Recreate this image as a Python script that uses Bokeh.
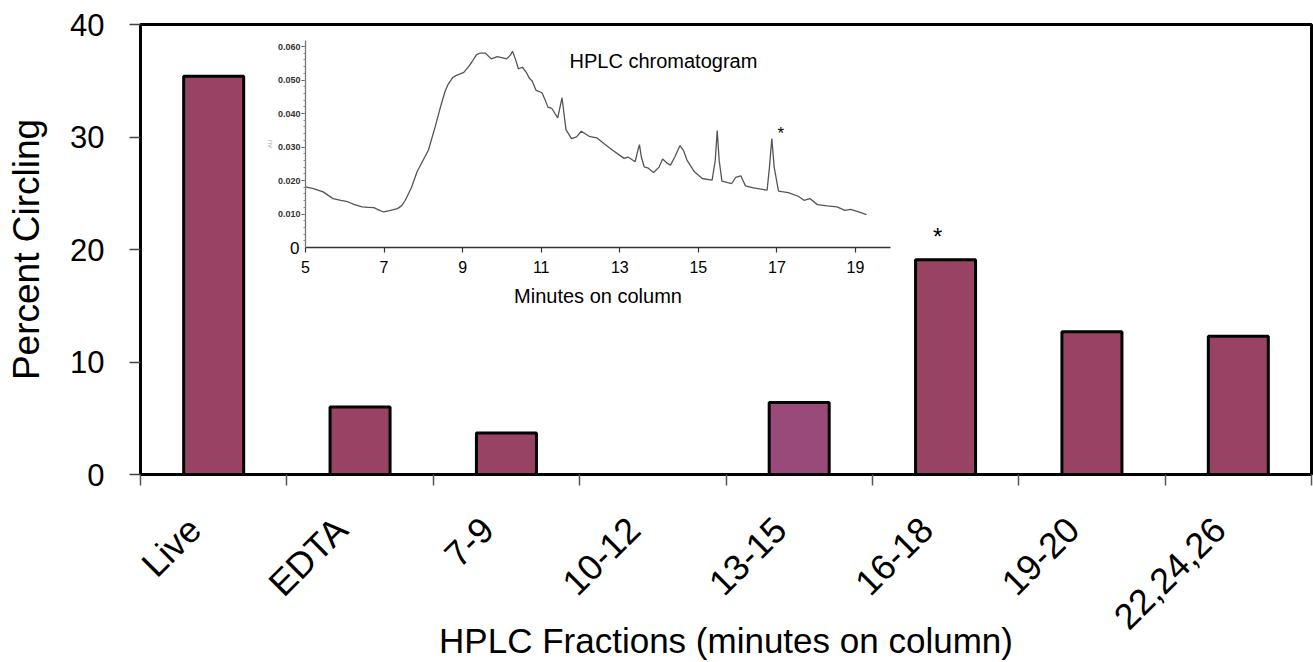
import math
from bokeh.plotting import figure
from bokeh.models import (Range1d, LinearAxis, FixedTicker, Label,
                          NumeralTickFormatter)
from bokeh.core.properties import value
from bokeh.embed import file_html
from bokeh.resources import INLINE

# ---------------- data ----------------
fractions = ["Live", "EDTA", "7-9", "10-12", "13-15", "16-18", "19-20", "22,24,26"]
percent_circling = [35.4, 6.0, 3.7, 0.0, 6.4, 19.1, 12.7, 12.3]
bar_colors = ["#984264", "#984264", "#984264", "#984264",
              "#9a4a7a", "#984264", "#984264", "#984264"]
y_ticks = [0, 10, 20, 30, 40]
significant_fraction = "16-18"

chrom_minutes = [5.00, 5.20, 5.45, 5.70, 5.90, 6.04, 6.25, 6.44, 6.60, 6.74,
                 6.90, 6.99, 7.14, 7.34, 7.45, 7.54, 7.70, 7.84, 8.00, 8.13,
                 8.30, 8.43, 8.55, 8.63, 8.75, 8.83, 9.03, 9.15, 9.23, 9.35,
                 9.43, 9.58, 9.73, 9.88, 10.02, 10.12, 10.22, 10.27, 10.35, 10.42,
                 10.52, 10.62, 10.70, 10.77, 10.87, 11.02, 11.10, 11.17, 11.27, 11.42,
                 11.48, 11.53, 11.58, 11.63, 11.77, 11.90, 12.02, 12.22, 12.42, 12.61,
                 12.81, 13.00, 13.11, 13.21, 13.39, 13.46, 13.50, 13.55, 13.62, 13.71,
                 13.86, 14.00, 14.09, 14.20, 14.29, 14.40, 14.53, 14.62, 14.71, 14.90,
                 15.10, 15.35, 15.43, 15.48, 15.53, 15.60, 15.75, 15.85, 15.95, 16.08,
                 16.20, 16.40, 16.75, 16.81, 16.87, 16.93, 17.04, 17.29, 17.54, 17.69,
                 17.84, 18.03, 18.28, 18.53, 18.73, 18.88, 19.08, 19.28]
chrom_au = [0.0181, 0.0176, 0.0166, 0.0146, 0.0141, 0.0138, 0.0128, 0.0121, 0.0120, 0.0119,
            0.0110, 0.0106, 0.0110, 0.0116, 0.0125, 0.0141, 0.0180, 0.0226, 0.0262, 0.0291,
            0.0360, 0.0417, 0.0465, 0.0487, 0.0508, 0.0513, 0.0523, 0.0540, 0.0553, 0.0575,
            0.0580, 0.0580, 0.0563, 0.0570, 0.0566, 0.0563, 0.0575, 0.0586, 0.0560, 0.0533,
            0.0538, 0.0523, 0.0505, 0.0497, 0.0469, 0.0462, 0.0440, 0.0419, 0.0415, 0.0387,
            0.0420, 0.0447, 0.0400, 0.0352, 0.0325, 0.0330, 0.0347, 0.0332, 0.0327, 0.0309,
            0.0291, 0.0275, 0.0266, 0.0270, 0.0256, 0.0290, 0.0307, 0.0270, 0.0241, 0.0238,
            0.0224, 0.0240, 0.0264, 0.0252, 0.0246, 0.0270, 0.0304, 0.0290, 0.0261, 0.0226,
            0.0206, 0.0201, 0.0260, 0.0349, 0.0260, 0.0198, 0.0194, 0.0191, 0.0209, 0.0214,
            0.0184, 0.0178, 0.0171, 0.0240, 0.0325, 0.0240, 0.0168, 0.0164, 0.0153, 0.0141,
            0.0146, 0.0128, 0.0124, 0.0121, 0.0111, 0.0114, 0.0106, 0.0098]
chrom_x_ticks = [5, 7, 9, 11, 13, 15, 17, 19]
chrom_y_ticks = [0.010, 0.020, 0.030, 0.040, 0.050, 0.060]
chrom_marked_peak = 16.87

FONT = "Liberation Sans"

# ---------------- layout (screen px) ----------------
W, H = 1313, 662
FL, FR, FT, FB = 140, 1311, 24, 474   # frame edges inside the figure
IX0_PX, IX1_PX = 305, 855      # where minutes 5 and 19 sit
IY0_PX, IY1_PX = 247, 46       # where AU 0 and 0.060 sit
LABEL_SHIFT = -0.13            # category labels sit a little left of centre

p = figure(width=W, height=H, x_range=Range1d(0, len(fractions)),
           y_range=Range1d(0, 40), output_backend="svg", toolbar_location=None,
           min_border_left=FL, min_border_right=W - FR, min_border_top=FT,
           min_border_bottom=H - FB)
p.background_fill_color = "white"
p.border_fill_color = "white"
p.outline_line_color = "black"
p.outline_line_width = 3
p.xgrid.visible = False
p.ygrid.visible = False

# inset ranges mapped over the full frame
sx = (IX1_PX - IX0_PX) / (19 - 5)
sy = (IY0_PX - IY1_PX) / 0.060
p.extra_x_ranges = {"ix": Range1d(5 - (IX0_PX - FL) / sx, 5 + (FR - IX0_PX) / sx)}
p.extra_y_ranges = {"iy": Range1d(-(FB - IY0_PX) / sy, (IY0_PX - FT) / sy)}

# ---------------- bars ----------------
centers = [i + 0.5 for i in range(len(fractions))]
p.vbar(x=centers, top=percent_circling, width=0.41, bottom=0,
       fill_color=bar_colors, line_color="black", line_width=3)

k = fractions.index(significant_fraction)
p.text(x=[centers[k]], y=[percent_circling[k]], text=["*"],
       text_font=value(FONT), text_font_size="24px", text_color="black",
       text_align="center", text_baseline="middle", x_offset=-8, y_offset=-23)

# main y axis
ya = p.yaxis[0]
ya.ticker = FixedTicker(ticks=y_ticks)
ya.axis_line_width = 3
ya.axis_line_color = "black"
ya.major_tick_out = 11
ya.major_tick_in = 0
ya.major_tick_line_color = "#444"
ya.major_tick_line_width = 1.5
ya.minor_tick_out = 0
ya.minor_tick_in = 0
ya.major_label_text_font = FONT
ya.major_label_text_font_size = "31px"
ya.major_label_text_color = "black"
ya.major_label_standoff = 25
ya.axis_label = "Percent Circling"
ya.axis_label_text_font = FONT
ya.axis_label_text_font_size = "37px"
ya.axis_label_text_font_style = "normal"
ya.axis_label_text_color = "black"
ya.axis_label_standoff = 20

# main x axis
label_pos = [c + LABEL_SHIFT for c in centers]
xa = p.xaxis[0]
xa.ticker = FixedTicker(ticks=label_pos, minor_ticks=list(range(len(fractions) + 1)))
xa.major_label_overrides = {c: f for c, f in zip(label_pos, fractions)}
xa.major_label_orientation = math.pi / 4
xa.axis_line_width = 3
xa.axis_line_color = "black"
xa.major_tick_out = 0
xa.major_tick_in = 0
xa.minor_tick_out = 11
xa.minor_tick_in = 0
xa.minor_tick_line_color = "#555"
xa.minor_tick_line_width = 1.5
xa.major_label_text_font = FONT
xa.major_label_text_font_size = "36px"
xa.major_label_text_color = "black"
xa.major_label_standoff = 38
xa.axis_label = "HPLC Fractions (minutes on column)"
xa.axis_label_text_font = FONT
xa.axis_label_text_font_size = "35px"
xa.axis_label_text_font_style = "normal"
xa.axis_label_text_color = "black"
xa.axis_label_standoff = -34

# ---------------- inset chromatogram ----------------
p.line(chrom_minutes, chrom_au, x_range_name="ix", y_range_name="iy",
       line_color="#555555", line_width=1.3)

pk = chrom_minutes.index(chrom_marked_peak)
p.text(x=[chrom_minutes[pk]], y=[chrom_au[pk]], text=["*"],
       x_range_name="ix", y_range_name="iy",
       text_font=value(FONT), text_font_size="17px", text_color="black",
       text_align="center", text_baseline="middle", x_offset=9, y_offset=-5)

ixa = LinearAxis(x_range_name="ix", y_range_name="iy", fixed_location=0,
                 bounds=(5, 19.9),
                 ticker=FixedTicker(ticks=chrom_x_ticks, minor_ticks=[]))
ixa.axis_line_color = "#333"
ixa.axis_line_width = 1.5
ixa.major_tick_out = 5
ixa.major_tick_in = 0
ixa.major_tick_line_color = "#333"
ixa.major_tick_line_width = 1.2
ixa.minor_tick_out = 0
ixa.major_label_text_font = FONT
ixa.major_label_text_font_size = "16px"
ixa.major_label_text_color = "black"
ixa.major_label_standoff = 8
ixa.axis_label = "Minutes on column"
ixa.axis_label_text_font = FONT
ixa.axis_label_text_font_size = "20px"
ixa.axis_label_text_font_style = "normal"
ixa.axis_label_text_color = "black"
ixa.axis_label_standoff = 9
p.add_layout(ixa, "below")

iya = LinearAxis(x_range_name="ix", y_range_name="iy", fixed_location=5,
                 bounds=(0, 0.0618),
                 ticker=FixedTicker(ticks=chrom_y_ticks,
                                    minor_ticks=[round(0.002 * i, 3) for i in range(1, 31)]),
                 formatter=NumeralTickFormatter(format="0.000"))
iya.axis_line_color = "#777"
iya.axis_line_width = 1.3
iya.major_tick_out = 4
iya.major_tick_in = 0
iya.major_tick_line_color = "#555"
iya.minor_tick_out = 2
iya.minor_tick_in = 0
iya.minor_tick_line_color = "#888"
iya.major_label_text_font = FONT
iya.major_label_text_font_size = "9px"
iya.major_label_text_font_style = "bold"
iya.major_label_text_color = "#333"
iya.major_label_standoff = 1
iya.axis_label = "AU"
iya.axis_label_text_font = FONT
iya.axis_label_text_font_size = "6px"
iya.axis_label_text_font_style = "normal"
iya.axis_label_text_color = "#999"
iya.axis_label_standoff = 2
p.add_layout(iya, "left")

p.add_layout(Label(x=5, y=0, x_range_name="ix", y_range_name="iy", text="0",
                   x_offset=-6, text_align="right", text_baseline="middle",
                   text_font=FONT, text_font_size="17px", text_color="black"))
p.add_layout(Label(x=11.72, y=0.0558, x_range_name="ix", y_range_name="iy",
                   text="HPLC chromatogram", text_align="left", text_baseline="middle",
                   text_font=FONT, text_font_size="20px", text_color="black"))

open("out.html", "w").write(file_html(p, INLINE))
